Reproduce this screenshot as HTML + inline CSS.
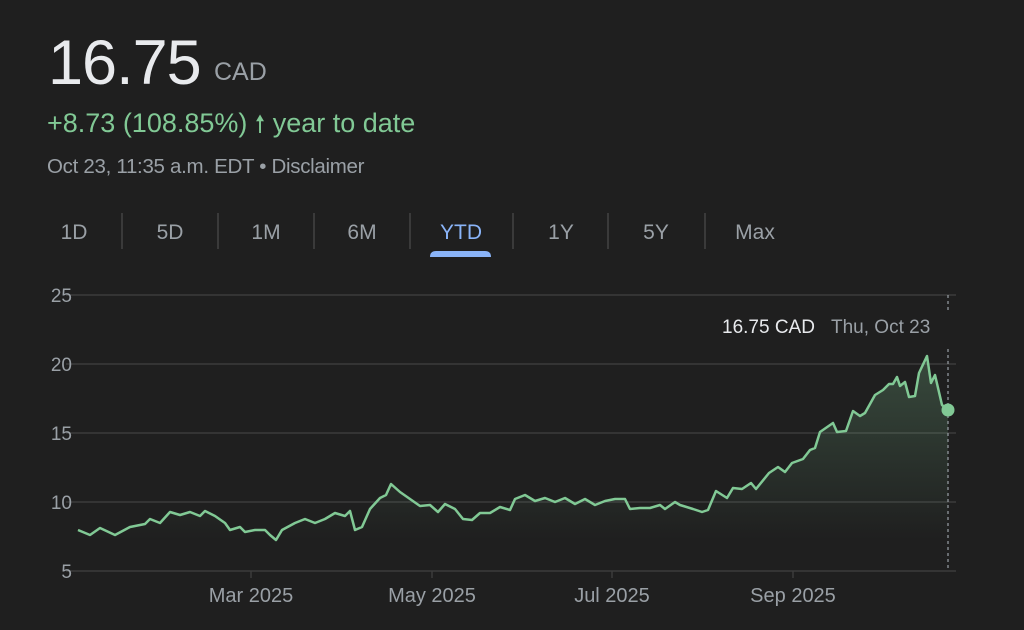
<!DOCTYPE html>
<html><head><meta charset="utf-8"><style>
html,body{margin:0;padding:0;background:#1f1f1f;width:1024px;height:630px;overflow:hidden;font-family:"Liberation Sans",Arial,sans-serif}
.abs{position:absolute;white-space:nowrap}
</style></head><body>
<div class="abs" style="left:48px;top:27px;font-size:63px;color:#e8eaed;letter-spacing:-1px">16.75</div>
<div class="abs" style="left:214px;top:58px;font-size:25px;color:#9aa0a6">CAD</div>
<div class="abs" style="left:47px;top:107px;font-size:27px;color:#81c995">+8.73 (108.85%) <span style="font-size:24px">&#129045;</span> year to date</div>
<div class="abs" style="left:47px;top:155px;font-size:20.5px;color:#9aa0a6;letter-spacing:-0.3px">Oct 23, 11:35 a.m. EDT • Disclaimer</div>
<svg class="abs" style="left:0;top:0" width="1024" height="630">
<g font-size="21" fill="#9aa0a6" text-anchor="middle">
<text x="74" y="239">1D</text><text x="170" y="239">5D</text><text x="266" y="239">1M</text><text x="362" y="239">6M</text>
<text x="461" y="239" fill="#8ab4f8">YTD</text><text x="561" y="239">1Y</text><text x="656" y="239">5Y</text><text x="755" y="239">Max</text>
</g>
<g stroke="#444" stroke-width="1.5">
<line x1="122" y1="213" x2="122" y2="249"/><line x1="218" y1="213" x2="218" y2="249"/><line x1="314" y1="213" x2="314" y2="249"/><line x1="410" y1="213" x2="410" y2="249"/><line x1="513" y1="213" x2="513" y2="249"/><line x1="608" y1="213" x2="608" y2="249"/><line x1="705" y1="213" x2="705" y2="249"/>
</g>
<path d="M430 257 Q430 251 436 251 L485 251 Q491 251 491 257 Z" fill="#8ab4f8"/>
<g stroke="#3c3c3c" stroke-width="1.5">
<line x1="66" y1="295" x2="956" y2="295"/><line x1="66" y1="364" x2="956" y2="364"/><line x1="66" y1="433" x2="956" y2="433"/><line x1="66" y1="502" x2="956" y2="502"/><line x1="66" y1="571" x2="956" y2="571"/>
<line x1="251" y1="571" x2="251" y2="578"/><line x1="432" y1="571" x2="432" y2="578"/><line x1="612" y1="571" x2="612" y2="578"/><line x1="793" y1="571" x2="793" y2="578"/>
</g>
<g font-size="19" fill="#9aa0a6" text-anchor="end">
<text x="72" y="302">25</text><text x="72" y="371">20</text><text x="72" y="440">15</text><text x="72" y="509">10</text><text x="72" y="578">5</text>
</g>
<g font-size="20" fill="#9aa0a6" text-anchor="middle">
<text x="251" y="602">Mar 2025</text><text x="432" y="602">May 2025</text><text x="612" y="602">Jul 2025</text><text x="793" y="602">Sep 2025</text>
</g>
<defs><linearGradient id="g" x1="0" y1="0" x2="0" y2="1"><stop offset="0" stop-color="#81c995" stop-opacity="0.25"/><stop offset="1" stop-color="#81c995" stop-opacity="0"/></linearGradient></defs>
<path d="M78 530 L90 535 L100 528 L115 535 L130 527 L145 524 L150 519 L160 523 L170 512 L180 515 L190 512 L200 516 L205 511 L215 516 L225 523 L230 530 L240 527 L245 532 L255 530 L265 530 L270 535 L276 540 L282 530 L295 523 L305 519 L315 523 L325 519 L335 513 L345 516 L350 511 L355 530 L362 527 L370 509 L380 498 L386 495 L391 484 L400 492 L410 499 L420 506 L430 505 L438 512 L445 504 L455 509 L463 519 L472 520 L480 513 L490 513 L500 507 L510 510 L515 499 L525 495 L535 501 L545 498 L555 502 L565 498 L575 504 L585 499 L595 505 L605 501 L615 499 L625 499 L630 509 L640 508 L650 508 L660 505 L665 509 L675 502 L680 505 L693 509 L702 512 L708 510 L716 491 L727 498 L733 488 L742 489 L751 483 L756 489 L769 473 L778 467 L785 472 L792 463 L803 459 L810 450 L815 448 L820 432 L833 423 L837 432 L846 431 L853 411 L860 416 L865 413 L875 395 L883 390 L889 384 L893 384 L897 377 L900 386 L905 382 L909 397 L915 396 L919 373 L927 356 L931 383 L935 375 L942 405 L948 410 L948 540 L78 540 Z" fill="url(#g)"/>
<path d="M78 530 L90 535 L100 528 L115 535 L130 527 L145 524 L150 519 L160 523 L170 512 L180 515 L190 512 L200 516 L205 511 L215 516 L225 523 L230 530 L240 527 L245 532 L255 530 L265 530 L270 535 L276 540 L282 530 L295 523 L305 519 L315 523 L325 519 L335 513 L345 516 L350 511 L355 530 L362 527 L370 509 L380 498 L386 495 L391 484 L400 492 L410 499 L420 506 L430 505 L438 512 L445 504 L455 509 L463 519 L472 520 L480 513 L490 513 L500 507 L510 510 L515 499 L525 495 L535 501 L545 498 L555 502 L565 498 L575 504 L585 499 L595 505 L605 501 L615 499 L625 499 L630 509 L640 508 L650 508 L660 505 L665 509 L675 502 L680 505 L693 509 L702 512 L708 510 L716 491 L727 498 L733 488 L742 489 L751 483 L756 489 L769 473 L778 467 L785 472 L792 463 L803 459 L810 450 L815 448 L820 432 L833 423 L837 432 L846 431 L853 411 L860 416 L865 413 L875 395 L883 390 L889 384 L893 384 L897 377 L900 386 L905 382 L909 397 L915 396 L919 373 L927 356 L931 383 L935 375 L942 405 L948 410" fill="none" stroke="#81c995" stroke-width="2.5" stroke-linejoin="round"/>
<line x1="948" y1="295" x2="948" y2="571" stroke="#9aa0a6" stroke-width="1.2" stroke-dasharray="3,3"/>
<rect x="715" y="310" width="240" height="38" fill="#1f1f1f"/>
<circle cx="948" cy="410" r="6.5" fill="#81c995"/>
<text x="722" y="333" font-size="19" fill="#e8eaed">16.75 CAD</text>
<text x="831" y="333" font-size="19" fill="#9aa0a6">Thu, Oct 23</text>
</svg>
</body></html>
